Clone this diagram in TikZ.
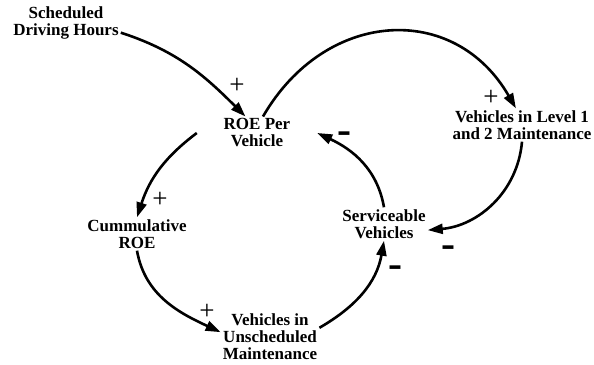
\documentclass[tikz,border=0pt]{standalone}
\usepackage{fontspec}
\setmainfont{Liberation Serif}
\usetikzlibrary{arrows.meta}

\begin{document}
\begin{tikzpicture}[x=1pt,y=1pt,
  v/.style={align=center,font=\bfseries\fontsize{17}{17}\selectfont,inner sep=2pt},
  pl/.style={font=\fontsize{27}{27}\selectfont,inner sep=0pt},
  mn/.style={font=\bfseries\fontsize{42}{42}\selectfont,inner sep=0pt},
  lnk/.style={line width=2.6pt,-{Triangle[length=15pt,width=10pt]}}]
  \useasboundingbox (0,0) rectangle (594,364);

  \node[v] (sdh) at (66,341) {Scheduled\\Driving Hours};
  \node[v,minimum width=120pt] (roe) at (257,231) {ROE Per\\Vehicle};
  \node[v] (lvl) at (522,239) {Vehicles in Level 1\\and 2 Maintenance};
  \node[v] (sv) at (384,140) {Serviceable\\Vehicles};
  \node[v] (cr) at (137,130) {Cummulative\\ROE};
  \node[v] (um) at (270,27.5) {Vehicles in\\Unscheduled\\Maintenance};

  \draw[lnk] (sdh.-10) to[out=-18,in=135] (roe.125);
  \draw[lnk] (roe.70) to[out=60,in=120,looseness=1.25] (lvl.110);
  \draw[lnk] (lvl.south) to[out=-95,in=5] (sv.-8);
  \draw[lnk] (sv.north) to[out=100,in=-25] (roe.east);
  \draw[lnk] (roe.west) to[out=-143,in=72] (cr.north);
  \draw[lnk] (cr.south) to[out=-80,in=155] (um.175);
  \draw[lnk] (um.10) to[out=30,in=-100] (sv.south);

  \node[pl] (p1) at (237,278) {+};
  \node[pl] (p2) at (491,266) {+};
  \node[pl] (p3) at (160,164) {+};
  \node[pl] (p4) at (207,52) {+};
  \node[mn] (m1) at (344,226) {-};
  \node[mn] (m2) at (448,112) {-};
  \node[mn] (m3) at (395,92) {-};
\end{tikzpicture}
\end{document}
